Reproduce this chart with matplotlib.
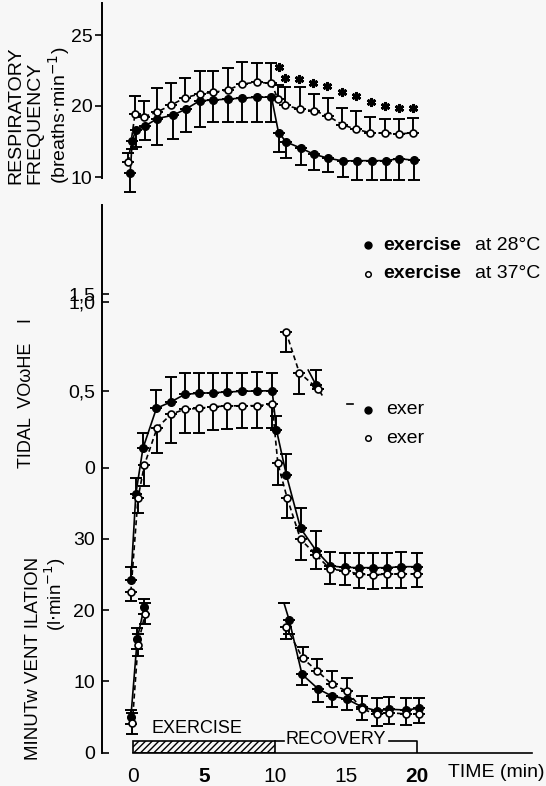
import numpy as np
import matplotlib.pyplot as plt
from matplotlib.patches import Rectangle

plt.rcParams['font.family'] = ['Liberation Sans', 'DejaVu Sans']
plt.rcParams['hatch.linewidth'] = 1.0

# respiratory frequency (top panel)
rf_fill_t = [-0.2, -0.05, 0.2, 0.85, 1.7, 2.8, 3.7, 4.7, 5.65, 6.7, 7.7, 8.7, 9.75,
             10.25, 10.8, 11.8, 12.75, 13.75, 14.8, 15.8, 16.8, 17.8, 18.75, 19.8]
rf_fill = [15.3, 17.56, 18.31, 18.59, 19.11, 19.35, 19.77, 20.37, 20.42, 20.49, 20.56, 20.61, 20.63,
           18.12, 17.46, 17.04, 16.6, 16.32, 16.13, 16.15, 16.15, 16.15, 16.29, 16.18]
rf_fill_sd = [1.35, 0.6, 1.2, 0.95, 1.85, 1.7, 1.6, 1.85, 1.55, 1.65, 1.7, 1.75, 1.78,
              1.35, 1.15, 1.2, 1.1, 0.95, 1.15, 1.35, 1.35, 1.35, 1.5, 1.4]
rf_open_t = [-0.33, 0.14, 0.8, 1.7, 2.7, 3.65, 4.7, 5.65, 6.7, 7.65, 8.7, 9.75,
             10.2, 10.7, 11.75, 12.75, 13.7, 14.75, 15.7, 16.7, 17.75, 18.75, 19.75]
rf_open = [16.06, 19.44, 19.25, 19.58, 20.07, 20.58, 20.85, 20.96, 21.13, 21.55, 21.67, 21.6,
           20.49, 20.07, 19.77, 19.67, 19.32, 18.68, 18.36, 18.12, 18.08, 18.03, 18.12]
rf_open_sd = [0.6, 1.27, 1.1, 1.7, 1.57, 1.4, 1.6, 1.52, 1.52, 1.53, 1.38, 1.46,
              1.0, 1.25, 1.55, 1.18, 1.22, 1.2, 1.29, 1.08, 1.0, 1.05, 1.0]
star_t = [10.25, 10.7, 11.7, 12.7, 13.65, 14.7, 15.7, 16.76, 17.75, 18.73, 19.75]
star_y = [22.73, 21.99, 21.88, 21.6, 21.41, 20.96, 20.70, 20.26, 20.0, 19.88, 19.88]
rf_ticks = [15, 20, 25]
rf_ticklabels = ['10', '20', '25']

# tidal volume / ventilation block (lower axes, one shared scale)
mid_fill_t = [-0.15, 0.2, 0.7, 1.65, 2.7, 3.65, 4.65, 5.6, 6.65, 7.7, 8.7, 9.8,
              10.1, 10.8, 11.8, 12.9, 13.9, 14.9, 15.9, 16.9, 17.9, 18.9, 20.0]
mid_fill = [24.22, 36.28, 42.69, 48.3, 49.23, 50.27, 50.41, 50.49, 50.59, 50.69, 50.73, 50.77,
            45.3, 38.95, 31.47, 28.33, 26.19, 26.0, 25.95, 25.95, 25.95, 26.09, 26.09]
mid_fill_sd = [1.8, 2.3, 2.1, 2.5, 3.5, 3.0, 2.9, 2.8, 2.7, 2.6, 2.6, 2.5,
               1.9, 3.0, 2.8, 2.7, 1.9, 2.0, 2.0, 2.0, 2.0, 2.0, 1.9]
mid_open_t = [-0.15, 0.35, 0.8, 1.7, 2.7, 3.65, 4.65, 5.6, 6.65, 7.7, 8.7, 9.8,
              10.2, 10.85, 11.8, 12.9, 13.9, 14.9, 15.9, 16.9, 17.9, 18.9, 20.0]
mid_open = [22.58, 35.68, 40.35, 45.58, 47.5, 48.16, 48.3, 48.53, 48.63, 48.67, 48.67, 48.86,
            40.59, 35.76, 29.93, 27.73, 25.72, 25.53, 25.06, 24.92, 25.06, 25.06, 25.06]
mid_open_sd = [1.3, 2.06, 3.0, 3.55, 4.0, 3.37, 3.5, 3.27, 3.27, 3.2, 3.1, 3.3,
               3.0, 2.9, 2.9, 1.9, 2.0, 2.0, 2.0, 2.0, 2.0, 2.0, 1.8]

# cut-off pieces of the tidal volume recovery curves
frag_open_t = [10.77, 11.71, 13.06]
frag_open = [59.05, 53.3, 50.97]
frag_open_sd = [2.8, 3.0, 0.0]
frag_fill_line_t = [12.34, 12.89, 13.3]
frag_fill_line = [53.66, 51.57, 50.2]
frag_fill_t = [12.89]
frag_fill = [51.57]
frag_fill_sd = [2.1]

# minute ventilation pieces
mv_ex_fill_t = [-0.15, 0.3, 0.8]
mv_ex_fill = [5.0, 16.0, 20.5]
mv_ex_fill_sd = [1.0, 1.5, 1.0]
mv_ex_open_t = [-0.05, 0.35, 0.85]
mv_ex_open = [4.1, 15.1, 19.5]
mv_ex_open_sd = [1.5, 1.5, 1.5]
mv_rec_fill_t = [10.63, 11.0, 11.9, 13.05, 14.0, 15.05, 16.1, 17.15, 18.05, 19.2, 20.15]
mv_rec_fill = [21.0, 18.6, 11.0, 8.93, 7.95, 7.53, 6.45, 5.89, 6.09, 5.99, 6.23]
mv_rec_fill_sd = [0.0, 2.0, 1.5, 1.8, 1.6, 1.55, 1.9, 2.1, 2.1, 2.1, 2.0]
mv_rec_open_t = [10.8, 11.95, 12.98, 14.0, 15.05, 16.15, 17.15, 18.05, 19.2, 20.15]
mv_rec_open = [17.6, 13.24, 11.46, 9.6, 8.65, 6.09, 5.43, 5.61, 5.43, 5.43]
mv_rec_open_lo = [1.65, 0, 0, 0, 0, 0, 0, 0, 0, 0]
mv_rec_open_hi = [0, 1.65, 1.7, 1.85, 1.8, 1.9, 2.2, 2.2, 2.2, 2.2]

low_ticks = [0, 10, 20, 30, 40, 50.7, 63.2, 64.3]
low_ticklabels = ['0', '10', '20', '30', '0', '0,5', '1,0', '1,5']
x_ticks = [0, 5, 10, 15, 20]

W, H = 546, 786
fig = plt.figure(figsize=(W / 100, H / 100), dpi=100, facecolor='#f7f7f7')


def px_axes(x0, y0, x1, y1):
    return fig.add_axes([x0 / W, 1 - y1 / H, (x1 - x0) / W, (y1 - y0) / H])


XLIM = (-(133 - 102) / 14.2, (532 - 133) / 14.2)
ebkw = dict(fmt='none', ecolor='k', elinewidth=1.4, capsize=4, capthick=1.4)
fkw = dict(color='k', marker='o', markersize=5.5, lw=1.2)
okw = dict(color='k', marker='o', markersize=5, mfc='white', mec='k', mew=1.2,
           lw=1.2, dashes=(3, 2))
TF = 14

# ---- top panel ----
ax1 = px_axes(102, 3, 532, 195)
ax1.set_facecolor('none')
ax1.set_xlim(*XLIM)
ax1.set_ylim(20 - (195 - 106) / 14.2, 20 + (106 - 3) / 14.2)
z = np.zeros(len(rf_fill))
ax1.errorbar(rf_fill_t, rf_fill, yerr=[rf_fill_sd, z], **ebkw)
z = np.zeros(len(rf_open))
ax1.errorbar(rf_open_t, rf_open, yerr=[z, rf_open_sd], **ebkw)
ax1.plot(rf_fill_t, rf_fill, zorder=3, **fkw)
ax1.plot(rf_open_t, rf_open, zorder=4, **okw)
ax1.plot(star_t, star_y, ls='none', marker=(6, 2, 0), markersize=6.5, mew=2.0, color='k')
for s in ['top', 'right', 'bottom']:
    ax1.spines[s].set_visible(False)
ax1.spines['left'].set_bounds(14.95, ax1.get_ylim()[1])
ax1.spines['left'].set_linewidth(1.4)
ax1.set_xticks([])
ax1.set_yticks(rf_ticks, rf_ticklabels, fontsize=TF)
ax1.tick_params(axis='y', direction='out', length=5, width=1.2, pad=2)

# ---- lower block ----
ax2 = px_axes(102, 205, 532, 752.7)
ax2.set_facecolor('none')
ax2.set_xlim(*XLIM)
ax2.set_ylim(0, (752.7 - 205) / 7.13)

z = np.zeros(len(mid_fill))
ax2.errorbar(mid_fill_t, mid_fill, yerr=[z, mid_fill_sd], **ebkw)
z = np.zeros(len(mid_open))
ax2.errorbar(mid_open_t, mid_open, yerr=[mid_open_sd, z], **ebkw)
ax2.plot(mid_fill_t, mid_fill, zorder=3, **fkw)
ax2.plot(mid_open_t, mid_open, zorder=4, **okw)

ax2.errorbar(frag_open_t, frag_open, yerr=[frag_open_sd, np.zeros(3)], **ebkw)
ax2.errorbar(frag_fill_t, frag_fill, yerr=[[0], frag_fill_sd], **ebkw)
ax2.plot(frag_fill_line_t, frag_fill_line, color='k', lw=1.2)
ax2.plot(frag_fill_t, frag_fill, ls='none', marker='o', markersize=5.5, color='k', zorder=3)
ax2.plot(frag_open_t, frag_open, zorder=4, **okw)

ax2.errorbar(mv_ex_fill_t, mv_ex_fill, yerr=mv_ex_fill_sd, **ebkw)
ax2.errorbar(mv_ex_open_t, mv_ex_open, yerr=mv_ex_open_sd, **ebkw)
ax2.plot(mv_ex_fill_t, mv_ex_fill, zorder=3, **fkw)
ax2.plot(mv_ex_open_t, mv_ex_open, zorder=4, **okw)
ax2.errorbar(mv_rec_fill_t, mv_rec_fill, yerr=[mv_rec_fill_sd, np.zeros(len(mv_rec_fill))], **ebkw)
ax2.errorbar(mv_rec_open_t, mv_rec_open, yerr=[mv_rec_open_lo, mv_rec_open_hi], **ebkw)
ax2.plot(mv_rec_fill_t, mv_rec_fill, color='k', lw=1.2)
ax2.plot(mv_rec_fill_t[1:], mv_rec_fill[1:], ls='none', marker='o', markersize=5.5, color='k', zorder=3)
ax2.plot(mv_rec_open_t, mv_rec_open, zorder=4, **okw)

# exercise bar and recovery bracket
ax2.add_patch(Rectangle((0, 0), 10, 1.7, facecolor='none', edgecolor='k', hatch='/////', lw=1.2))
ax2.text(4.5, 3.4, 'EXERCISE', fontsize=13, ha='center', va='center')
ax2.plot([10, 10.6], [1.7, 1.7], color='k', lw=1.2)
ax2.plot([18.0, 20, 20], [1.7, 1.7, 0], color='k', lw=1.2)
ax2.text(14.3, 1.9, 'RECOVERY', fontsize=13, ha='center', va='center')

for s in ['top', 'right']:
    ax2.spines[s].set_visible(False)
ax2.spines['bottom'].set_bounds(0, XLIM[1])
ax2.spines['bottom'].set_linewidth(1.2)
ax2.spines['left'].set_linewidth(1.4)
ax2.set_yticks(low_ticks, low_ticklabels, fontsize=TF)
ax2.tick_params(axis='y', direction='in', length=5, width=1.2, pad=5)
ax2.set_xticks(x_ticks, [str(v) for v in x_ticks], fontsize=TF + 1)
ax2.tick_params(axis='x', length=0, pad=10)
for lab in ax2.get_xticklabels():
    if lab.get_text() in ('5', '20'):
        lab.set_fontweight('bold')
ax2.text(22.2, -2.8, 'TIME (min)', fontsize=TF, ha='left', va='center', clip_on=False)

# legends
ax2.plot([16.55], [71.2], 'ko', markersize=5, clip_on=False)
ax2.plot([16.55], [67.2], 'o', markersize=4, mfc='white', mec='k', mew=1.1)
for yy, temp in [(71.2, '28°C'), (67.2, '37°C')]:
    ax2.text(17.6, yy, 'exercise', fontsize=TF, fontweight='bold', ha='left', va='center')
    ax2.text(24.1, yy, 'at ' + temp, fontsize=TF, ha='left', va='center')
ax2.plot([15.1, 15.5], [48.9, 48.9], color='k', lw=1.2)
ax2.plot([16.57], [48.1], 'ko', markersize=5)
ax2.plot([16.57], [44.1], 'o', markersize=4, mfc='white', mec='k', mew=1.1)
ax2.text(17.86, 48.1, 'exer', fontsize=TF, ha='left', va='center')
ax2.text(17.86, 44.1, 'exer', fontsize=TF, ha='left', va='center')

# axis titles
fig.text(7 / W, 1 - 184 / H, 'RESPIRATORY\nFREQUENCY\n(breaths$\\cdot$min$^{-1}$)',
         rotation=90, fontsize=TF, ha='left', va='bottom', multialignment='left', linespacing=1.15)
fig.text(27 / W, 1 - 468 / H, 'TIDAL  VOωHE    l', rotation=90, fontsize=13,
         ha='center', va='bottom')
fig.text(25 / W, 1 - 557 / H, 'MINUTw VENT ILATION\n(l$\\cdot$min$^{-1}$)', rotation=90,
         fontsize=13.5, ha='left', va='top', multialignment='right', linespacing=1.05)

fig.savefig('out.png', dpi=100, facecolor=fig.get_facecolor())
